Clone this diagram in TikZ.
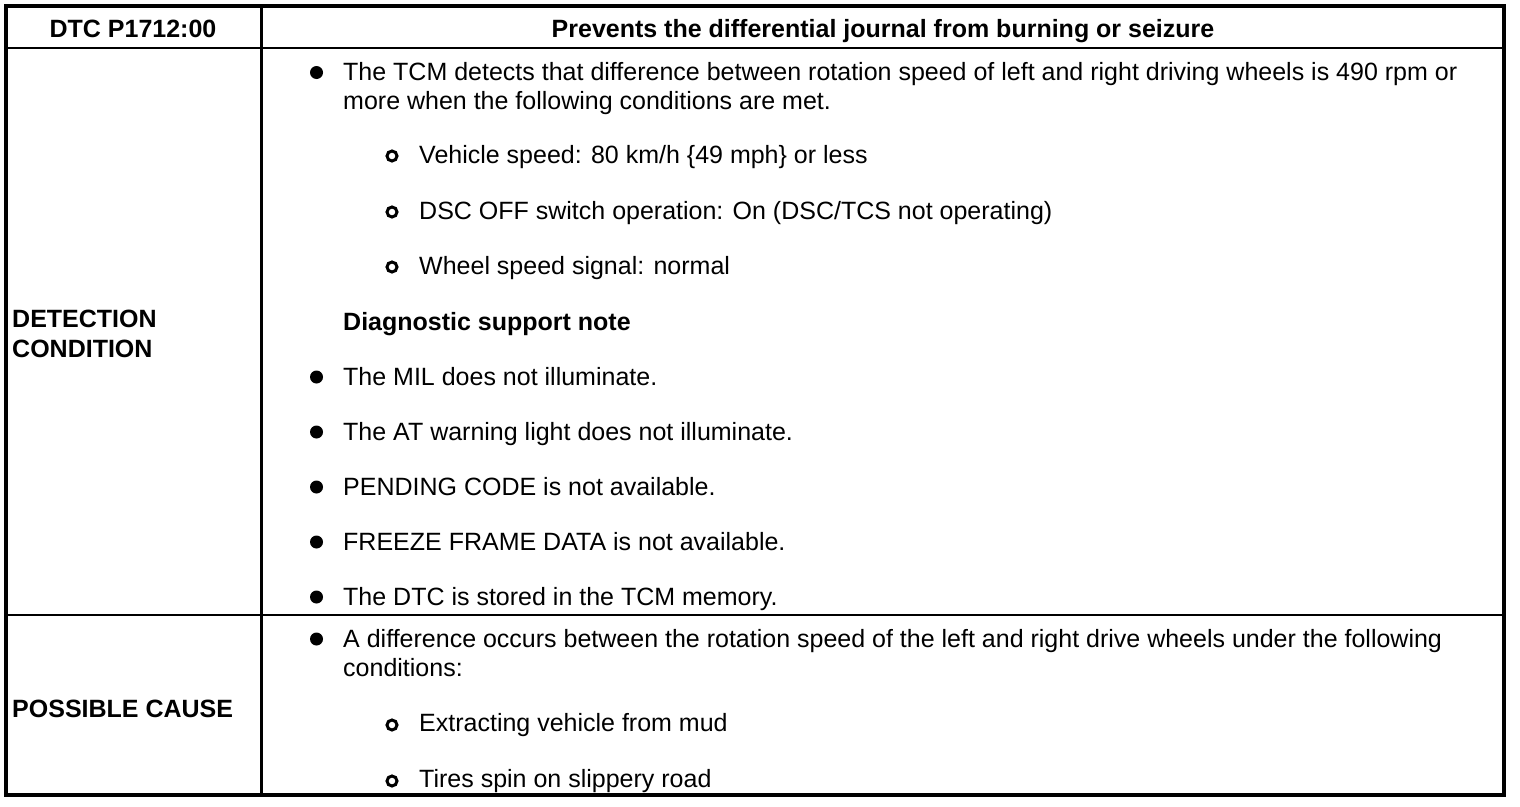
\documentclass[tikz,border=0pt]{standalone}
\usepackage{fontspec}
\setmainfont{Liberation Sans}
\usepackage{tikz}
\usetikzlibrary{positioning}

\tikzset{
    txt/.style  = {anchor=base west, inner sep=0pt, font=\fontsize{25}{30}\selectfont},
    head/.style = {anchor=base, inner sep=0pt, font=\fontsize{25}{30}\selectfont\bfseries},
    lab/.style  = {txt, font=\fontsize{25}{30}\selectfont\bfseries},
    dot/.style  = {circle, fill=black, inner sep=0pt, minimum size=13pt},
    ring/.style = {circle, draw=black, line width=3pt, inner sep=0pt, minimum size=10pt},
    frame/.style = {line width=4.5pt},
    rule/.style  = {line width=2.2pt},
}

\begin{document}
\begin{tikzpicture}[x=1pt, y=-1pt]
    \useasboundingbox (0,0) rectangle (1520,806);

    %Table corners
    \coordinate (TopLeft)  at (6,6);
    \coordinate (BotRight) at (1504,795);
    \coordinate (ColTop)   at (261.5,6);
    \coordinate (ColBot)   at (261.5,795);
    \coordinate (HeadL)    at (6,48);
    \coordinate (HeadR)    at (1504,48);
    \coordinate (RowL)     at (6,615);
    \coordinate (RowR)     at (1504,615);

    %Rules
    \draw[rule] (HeadL) -- (HeadR);
    \draw[rule] (RowL) -- (RowR);
    \draw[rule, line width=2.6pt] (ColTop) -- (ColBot);
    \draw[frame] (TopLeft) rectangle (BotRight);

    %-------------------------------------------
    %Header
    \node[head] (Code)  at (133,37)  {DTC P1712:00};
    \node[head] (Title) at (883,37)  {Prevents the differential journal from burning or seizure};

    %Left column
    \node[lab] (Detect1) at (12,327) {DETECTION};
    \node[lab] (Detect2) at (12,357) {CONDITION};
    \node[lab] (Cause)   at (12,717) {POSSIBLE CAUSE};

    %-------------------------------------------
    %Detection condition
    \node[dot] (DotTCM) at (316.5,72.5) {};
    \node[txt] (TCM1) at (343,80)  {The TCM detects that difference between rotation speed of left and right driving wheels is 490 rpm or};
    \node[txt] (TCM2) at (343,109) {more when the following conditions are met.};

    \node[ring] (RingSpeed) at (392,156) {};
    \node[txt]  (Speed) at (419,163) {Vehicle speed: 80 km/h \{49 mph\} or less};
    \node[ring] (RingDSC) at (392,212) {};
    \node[txt]  (DSC) at (419,219) {DSC OFF switch operation: On (DSC/TCS not operating)};
    \node[ring] (RingWheel) at (392,267) {};
    \node[txt]  (Wheel) at (419,274) {Wheel speed signal: normal};

    \node[lab] (Support) at (343,330) {Diagnostic support note};

    \node[dot] (DotMIL) at (316.5,377) {};
    \node[txt] (MIL) at (343,385) {The MIL does not illuminate.};
    \node[dot] (DotAT) at (316.5,432) {};
    \node[txt] (AT) at (343,440) {The AT warning light does not illuminate.};
    \node[dot] (DotPend) at (316.5,487) {};
    \node[txt] (Pend) at (343,495) {PENDING CODE is not available.};
    \node[dot] (DotFreeze) at (316.5,542) {};
    \node[txt] (Freeze) at (343,550) {FREEZE FRAME DATA is not available.};
    \node[dot] (DotStored) at (316.5,597) {};
    \node[txt] (Stored) at (343,605) {The DTC is stored in the TCM memory.};

    %-------------------------------------------
    %Possible cause
    \node[dot] (DotDiff) at (316.5,639) {};
    \node[txt] (Diff1) at (343,647) {A difference occurs between the rotation speed of the left and right drive wheels under the following};
    \node[txt] (Diff2) at (343,676) {conditions:};

    \node[ring] (RingMud) at (392,725) {};
    \node[txt]  (Mud) at (419,731) {Extracting vehicle from mud};
    \node[ring] (RingSpin) at (392,781) {};
    \node[txt]  (Spin) at (419,787) {Tires spin on slippery road};

\end{tikzpicture}
\end{document}
